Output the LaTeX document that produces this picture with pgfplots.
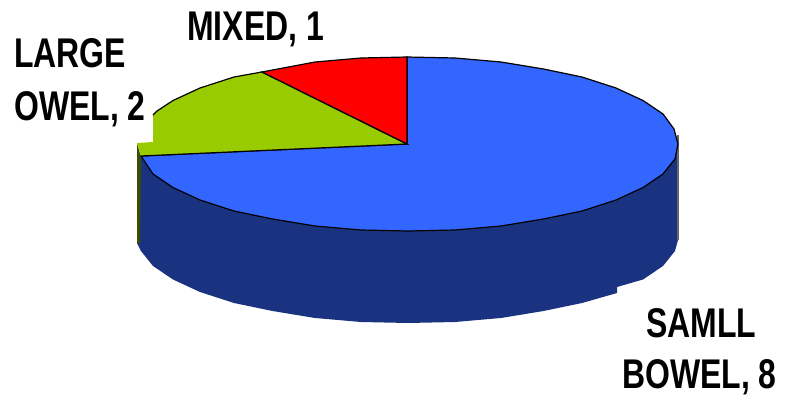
\documentclass[border=0pt]{standalone}
\usepackage{fontspec}
\setmainfont{Liberation Sans}[FakeStretch=0.77]
\usepackage{pgfplots}
\pgfplotsset{compat=1.18}
\definecolor{pieblue}{HTML}{3366FF}
\definecolor{piedark}{HTML}{1A3380}
\definecolor{piegreen}{HTML}{99CC00}
\definecolor{pieolive}{HTML}{3D4D00}
\newcommand{\lbl}[1]{\fontsize{41.5bp}{44bp}\selectfont\bfseries #1}
\begin{document}
\begin{tikzpicture}
\begin{axis}[
    hide axis, scale only axis,
    width=793bp, height=400bp,
    xmin=0, xmax=793, ymin=0, ymax=400,
    y dir=reverse,
    clip=false,
    ]
% side wall
\addplot[fill=piedark, draw=none] coordinates {
  (678,144) (675,159) (663,174) (643,187.5) (616,200) (582,211) (543.5,219)
  (501,226) (455,230) (408,231) (361,230) (315,226) (272.5,219) (234,211)
  (200,200) (173,187.5) (153,174) (141,157) (137,243) (141,251) (153,266)
  (173,279.5) (200,292) (234,303) (272.5,311) (315,318) (361,322) (408,323)
  (455,322) (501,318) (543.5,311) (582,303) (617,293) (617,287) (643,279.5)
  (663,266) (675,251) (678,240)
} --cycle;
% edge slices on the wall
\addplot[fill=pieolive, draw=none] coordinates {(137,143) (141,157) (140,243) (137,243)} --cycle;
\addplot[draw=black!60, line width=1.2bp] coordinates {(678,135) (678,240)};
% top face
\addplot[fill=pieblue, draw=black, line width=1.2bp] coordinates {
  (407,144) (407,57) (455,58) (501,62) (543.5,69) (582,77) (616,88) (643,100.5)
  (663,114) (674,129) (678,144) (675,159) (663,174) (643,187.5) (616,200)
  (582,211) (543.5,219) (501,226) (455,230) (408,231) (361,230) (315,226)
  (272.5,219) (234,211) (200,200) (173,187.5) (153,174) (141,156)
} --cycle;
\addplot[fill=piegreen, draw=none] coordinates {
  (407,144) (262,72) (234,77) (200,88) (173,100.5) (157,111) (153,115)
  (153,142) (137,143) (141,156)
} --cycle;
\addplot[draw=black, line width=1.2bp] coordinates {
  (141,156) (407,144) (262,72) (234,77) (200,88) (173,100.5) (157,111) (153,115)
};
\addplot[fill=red, draw=black, line width=1.2bp] coordinates {
  (407,144) (407,57) (361,58) (315,62) (262,72)
} --cycle;
\node[anchor=base west, inner sep=0pt] at (axis cs:187,40) {\lbl{MIXED, 1}};
\node[anchor=base west, inner sep=0pt] at (axis cs:14,67) {\lbl{LARGE}};
\node[anchor=base west, inner sep=0pt] at (axis cs:14,120) {\lbl{OWEL, 2}};
\node[anchor=base west, inner sep=0pt] at (axis cs:646,337) {\lbl{SAMLL}};
\node[anchor=base west, inner sep=0pt] at (axis cs:622,388) {\lbl{BOWEL, 8}};
\end{axis}
\pgfresetboundingbox
\path[use as bounding box] (0,0) rectangle (793bp,400bp);
\end{tikzpicture}
\end{document}
